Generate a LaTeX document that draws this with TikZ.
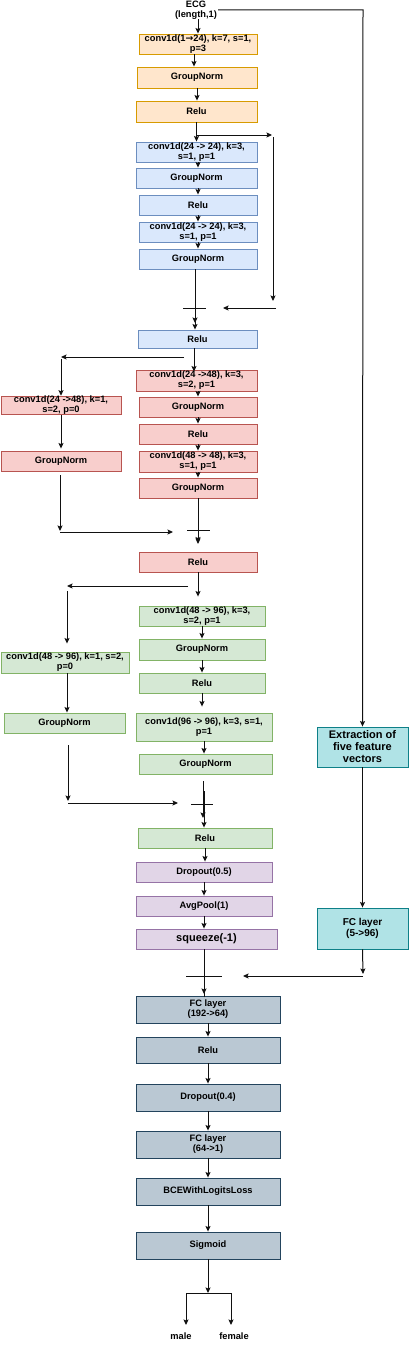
\documentclass[tikz,border=0pt]{standalone}
\usepackage{fontspec}
\setmainfont{Liberation Sans}
\newfontfamily\dejavu{DejaVu Sans}
\usetikzlibrary{arrows.meta}
\definecolor{orF}{HTML}{FFE6CC}\definecolor{orD}{HTML}{D79B00}
\definecolor{blF}{HTML}{DAE8FC}\definecolor{blD}{HTML}{6C8EBF}
\definecolor{rdF}{HTML}{F8CECC}\definecolor{rdD}{HTML}{B85450}
\definecolor{grF}{HTML}{D5E8D4}\definecolor{grD}{HTML}{82B366}
\definecolor{puF}{HTML}{E1D5E7}\definecolor{puD}{HTML}{9673A6}
\definecolor{tlF}{HTML}{B0E3E6}\definecolor{tlD}{HTML}{0E8088}
\definecolor{slF}{HTML}{BAC8D3}\definecolor{slD}{HTML}{23445D}
\definecolor{ln}{HTML}{111111}
\tikzset{
  box/.style={draw, line width=0.9pt, inner sep=0pt, align=center,
    font=\fontsize{9.3}{10}\selectfont\bfseries},
  orbox/.style={box, fill=orF, draw=orD},
  blbox/.style={box, fill=blF, draw=blD},
  rdbox/.style={box, fill=rdF, draw=rdD},
  grbox/.style={box, fill=grF, draw=grD},
  pubox/.style={box, fill=puF, draw=puD},
  tlbox/.style={box, fill=tlF, draw=tlD, font=\fontsize{10}{11}\selectfont\bfseries},
  slbox/.style={box, fill=slF, draw=slD},
  wh/.style 2 args={minimum width=#1pt, minimum height=#2pt},
  con/.style={draw=ln, line width=1pt},
  arr/.style={con, -{Stealth[length=5.5pt,width=5pt,inset=1pt]}},
  lbl/.style={inner sep=0pt, align=center, font=\fontsize{9.3}{10}\selectfont\bfseries},
}
\begin{document}
\begin{tikzpicture}[x=1pt,y=-1pt]
\useasboundingbox (0,0) rectangle (409,1346);
% input
\node[lbl] (ecg) at (196,10) {ECG\\(length,1)};
% orange stem
\node[orbox, wh={118}{20}] (c1) at (198,44) {conv1d(1{\dejavu\bfseries →}24), k=7, s=1,\\p=3};
\node[orbox, wh={120}{21}] (g1) at (197,77.5) {GroupNorm};
\node[orbox, wh={121}{21}] (r1) at (196.5,111.5) {Relu};
% blue block
\node[blbox, wh={121}{20}] (b1) at (196.5,152) {conv1d(24 -> 24), k=3,\\s=1, p=1};
\node[blbox, wh={121}{20}] (b2) at (196.5,178) {GroupNorm};
\node[blbox, wh={118}{20}] (b3) at (198,205) {Relu};
\node[blbox, wh={118}{20}] (b4) at (198,232) {conv1d(24 -> 24), k=3,\\s=1, p=1};
\node[blbox, wh={118}{20}] (b5) at (198,259) {GroupNorm};
\node[blbox, wh={119}{18}] (b6) at (197.5,339) {Relu};
% red block
\node[rdbox, wh={121}{21}] (rd1) at (196.5,380.5) {conv1d(24 ->48), k=3,\\s=2, p=1};
\node[rdbox, wh={120}{17}] (rdL1) at (61,405.5) {conv1d(24 ->48), k=1,\\s=2, p=0};
\node[rdbox, wh={118}{20}] (rd2) at (198,407) {GroupNorm};
\node[rdbox, wh={118}{20}] (rd3) at (198,434) {Relu};
\node[rdbox, wh={118}{21}] (rd4) at (198,461.5) {conv1d(48 -> 48), k=3,\\s=1, p=1};
\node[rdbox, wh={120}{20}] (rdL2) at (61,461) {GroupNorm};
\node[rdbox, wh={118}{20}] (rd5) at (198,488) {GroupNorm};
\node[rdbox, wh={118}{20}] (rd6) at (198,562) {Relu};
% green block
\node[grbox, wh={126}{20}] (gr1) at (202,616) {conv1d(48 -> 96), k=3,\\s=2, p=1};
\node[grbox, wh={126}{21}] (gr2) at (202,649.5) {GroupNorm};
\node[grbox, wh={128}{21}] (grL1) at (65,662.5) {conv1d(48 -> 96), k=1, s=2,\\p=0};
\node[grbox, wh={126}{20}] (gr3) at (202,683) {Relu};
\node[grbox, wh={121}{20}] (grL2) at (64.5,723) {GroupNorm};
\node[grbox, wh={136}{28}] (gr4) at (204,727) {conv1d(96 -> 96), k=3, s=1,\\p=1};
\node[grbox, wh={133}{20}] (gr5) at (205.5,764) {GroupNorm};
\node[grbox, wh={134}{20}] (gr6) at (205,838) {Relu};
% purple
\node[pubox, wh={136}{20}] (p1) at (204,872) {Dropout(0.5)};
\node[pubox, wh={136}{20}] (p2) at (204,906) {AvgPool(1)};
\node[pubox, wh={141}{20}, font=\fontsize{11}{12}\selectfont\bfseries] (p3) at (206.5,939) {squeeze(-1)};
% teal
\node[tlbox, wh={91}{40}, font=\fontsize{11}{12}\selectfont\bfseries] (t1) at (362.5,747) {Extraction of\\five feature\\vectors};
\node[tlbox, wh={91}{41}] (t2) at (362.5,928.5) {FC layer\\(5->96)};
% slate head
\node[slbox, wh={144}{27}] (s1) at (208,1009.5) {FC layer\\(192->64)};
\node[slbox, wh={144}{26}] (s2) at (208,1050) {Relu};
\node[slbox, wh={144}{27}] (s3) at (208,1097.5) {Dropout(0.4)};
\node[slbox, wh={144}{27}] (s4) at (208,1144.5) {FC layer\\(64->1)};
\node[slbox, wh={144}{27}] (s5) at (208,1191.5) {BCEWithLogitsLoss};
\node[slbox, wh={144}{27}] (s6) at (208,1245.5) {Sigmoid};
\node[lbl] (male) at (181,1336) {male};
\node[lbl] (female) at (234,1336) {female};

% ---------- coordinates ----------
\coordinate (ecgR) at (218,10);
\coordinate (ecgC) at (363,10);
\coordinate (sk1a) at (197,135); \coordinate (sk1b) at (272,135);
\coordinate (sk1c) at (273,137); \coordinate (sk1d) at (273,301);
\coordinate (sk1e) at (276,308); \coordinate (sk1f) at (223,308);
\coordinate (pl1) at (195,308);
\coordinate (sk2a) at (184,357); \coordinate (sk2b) at (61,357); \coordinate (sk2c) at (61,359);
\coordinate (sk2d) at (60,475); \coordinate (sk2e) at (60,531);
\coordinate (sk2f) at (60,532); \coordinate (sk2g) at (173,532);
\coordinate (pl2) at (198,530);
\coordinate (sk3a) at (188,586); \coordinate (sk3b) at (67,586); \coordinate (sk3c) at (67,591);
\coordinate (sk3d) at (68,745); \coordinate (sk3e) at (68,801);
\coordinate (sk3f) at (68,803); \coordinate (sk3g) at (178,803);
\coordinate (pl3) at (203,804);
\coordinate (pl4) at (204,976);
\coordinate (fcA) at (363,974); \coordinate (fcB) at (363,976); \coordinate (fcC) at (243,976);
\coordinate (spl) at (208,1293);
\coordinate (splL) at (186,1293); \coordinate (splR) at (231,1293);
\coordinate (mA) at (186,1325); \coordinate (fA) at (231,1325);

% ---------- connectors ----------
\draw[arr] (ecg.south -| c1.north) -- (c1.north);
\draw[arr] (ecgR) -- (ecgC) -- (t1.north);
\draw[arr] (194,0 |- c1.south) -- (194,0 |- g1.north);
\draw[arr] (g1.south) -- (g1.south |- r1.north);
\draw[arr] (r1.south) -- (r1.south |- b1.north);
\draw[arr] (sk1a) -- (sk1b);
\draw[arr] (sk1c) -- (sk1d);
\draw[arr] (sk1e) -- (sk1f);
\draw[arr] (b1.south -| b3.north) -- (b2.north -| b3.north);
\draw[arr] (b2.south -| b3.north) -- (b3.north);
\draw[arr] (b3.south) -- (b4.north);
\draw[arr] (b4.south) -- (b5.north);
% plus 1
\draw[arr] (b5.south -| pl1) -- ([yshift=-15pt]pl1);
\draw[con] ([xshift=-12pt]pl1) -- ([xshift=11pt]pl1);
\draw[arr] ([yshift=-12pt]pl1) -- (pl1 |- b6.north);
\draw[arr] (b6.south -| 194,0) -- ([yshift=-2pt]194,0 |- rd1.north);
\draw[arr] (sk2a) -- (sk2b);
\draw[arr] (sk2c) -- (rdL1.north);
\draw[arr] (rd1.south -| rd2.north) -- (rd2.north);
\draw[arr] (rd2.south) -- (rd3.north);
\draw[arr] (rd3.south) -- (rd4.north);
\draw[arr] (rd4.south) -- (rd5.north);
\draw[arr, shorten >=2pt] (rdL1.south) -- (rdL2.north);
\draw[arr] (sk2d) -- (sk2e);
\draw[arr] (sk2f) -- (sk2g);
% plus 2
\draw[arr] (rd5.south) -- ([yshift=-14pt]pl2);
\draw[con] ([xshift=-11pt]pl2) -- ([xshift=12pt]pl2);
\draw[arr, shorten >=9pt] ([yshift=-8pt]pl2) -- (pl2 |- rd6.north);
\draw[arr, shorten >=9pt] (rd6.south) -- (rd6.south |- gr1.north);
\draw[arr] (sk3a) -- (sk3b);
\draw[arr, shorten >=8pt] (sk3c) -- (sk3c |- grL1.north);
\draw[arr] (gr1.south) -- (gr2.north);
\draw[arr] (gr2.south) -- (gr3.north);
\draw[arr, shorten >=6pt] (gr3.south) -- (gr3.south |- gr4.north);
\draw[arr] (grL1.south -| sk3c) -- (sk3c |- grL2.north);
\draw[arr] (gr4.south) -- (gr4.south |- gr5.north);
\draw[arr] (sk3d) -- (sk3e);
\draw[arr] (sk3f) -- (sk3g);
% plus 3
\draw[arr, shorten <=7pt] (gr5.south -| pl3) -- ([yshift=-14pt]pl3);
\draw[con] ([xshift=-12pt]pl3) -- ([xshift=10pt]pl3);
\draw[con] ([yshift=-7pt]pl3) -- ([yshift=9pt]pl3);
\draw[arr] ([yshift=13pt]204,0 |- pl3) -- (204,0 |- gr6.north);
\draw[arr] (gr6.south) -- (gr6.south |- p1.north);
\draw[arr] (p1.south) -- (p2.north);
\draw[arr] (p2.south) -- (p2.south |- p3.north);
% plus 4
\draw[arr] (p3.south -| pl4) -- ([yshift=-18pt]pl4);
\draw[con] ([yshift=-21pt]pl4) -- ([yshift=16pt]pl4);
\draw[con] ([xshift=-18pt]pl4) -- ([xshift=18pt]pl4);
\draw[arr] (t1.south) -- (t2.north);
\draw[arr] (t2.south) -- (fcA);
\draw[arr] (fcB) -- (fcC);
% head
\draw[arr] (s1.south) -- (s2.north);
\draw[arr] (s2.south) -- (s3.north);
\draw[arr] (s3.south) -- (s4.north);
\draw[arr] (s4.south) -- (s5.north);
\draw[arr] (s5.south) -- (s6.north);
\draw[arr] (s6.south) -- (spl);
\draw[con] (splL) -- (splR);
\draw[arr] (splL) -- (mA);
\draw[arr] (splR) -- (fA);
\end{tikzpicture}
\end{document}
